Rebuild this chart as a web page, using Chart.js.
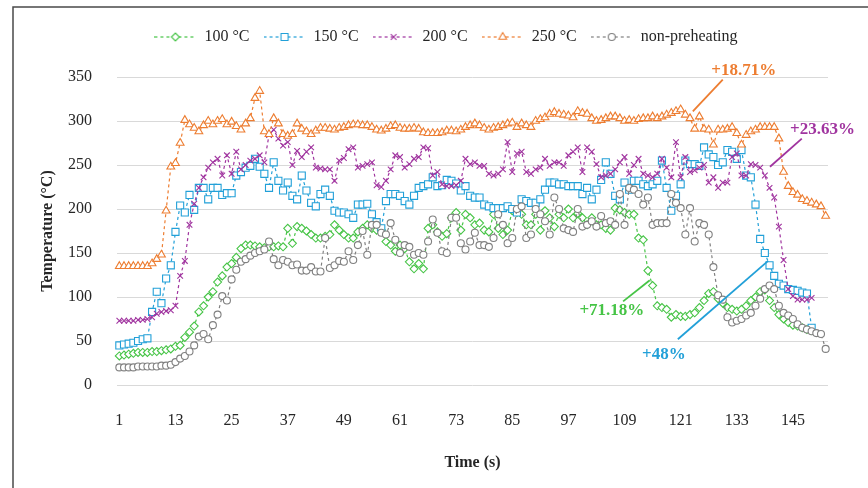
<!DOCTYPE html>
<html>
<head>
<meta charset="utf-8">
<script src="https://cdn.jsdelivr.net/npm/chart.js@4.4.1/dist/chart.umd.min.js"></script>
<style>
  html, body { margin: 0; padding: 0; background: #fff; }
</style>
</head>
<body>
<canvas id="temps" width="868" height="488"></canvas>
<script>
// time axis: one sample per second
const times = [];
for (let t = 1; t <= 152; t++) times.push(t);
const tickLabels = [1, 13, 25, 37, 49, 61, 73, 85, 97, 109, 121, 133, 145];

const preheat100 = [
  33, 34, 35, 36, 37, 37, 37, 38, 38, 39,
  40, 41, 44, 45, 54, 60, 67, 83, 90, 100,
  106, 117, 124, 134, 138, 145, 155, 159, 159, 158,
  157, 156, 157, 157, 158, 157, 178, 161, 180, 178,
  175, 171, 167, 167, 169, 171, 182, 176, 171, 167,
  167, 174, 178, 182, 178, 176, 176, 163, 159, 152,
  159, 155, 140, 132, 138, 132, 178, 182, 174, 169,
  172, 190, 196, 176, 194, 190, 182, 184, 176, 174,
  194, 178, 171, 176, 198, 196, 194, 182, 182, 194,
  176, 198, 190, 180, 194, 190, 200, 190, 195, 190,
  182, 190, 182, 182, 178, 176, 201, 199, 196, 194,
  194, 167, 165, 130, 113, 90, 88, 86, 77, 80,
  78, 78, 80, 82, 88, 96, 104, 106, 98, 93,
  88, 86, 84, 86, 90, 96, 100, 106, 108, 96,
  88, 80, 75, 71, 68, 67, 65, 63, 62, null,
  null, null
];

const preheat150 = [
  45, 46, 47, 48, 50, 52, 53, 83, 106, 93,
  121, 136, 174, 204, 196, 216, 199, 224, 224, 211,
  224, 224, 216, 218, 218, 238, 242, 247, 249, 257,
  248, 240, 224, 253, 232, 221, 230, 215, 211, 238,
  221, 207, 203, 217, 222, 215, 198, 196, 196, 194,
  190, 205, 205, 206, 194, 185, 178, 209, 217, 217,
  215, 209, 205, 215, 224, 226, 228, 236, 226, 227,
  233, 232, 229, 221, 226, 215, 213, 213, 205, 203,
  201, 201, 201, 203, 200, 196, 211, 209, 207, 207,
  211, 222, 230, 230, 228, 228, 226, 226, 226, 217,
  224, 211, 222, 233, 253, 240, 215, 211, 230, 222,
  232, 232, 228, 226, 228, 232, 255, 224, 198, 215,
  228, 255, 251, 251, 249, 270, 262, 259, 250, 253,
  267, 265, 257, 267, 238, 236, 205, 166, 150, 136,
  124, 115, 113, 109, 108, 107, 105, 104, 65, null,
  null, null
];

const preheat200 = [
  73, 73, 73, 73, 74, 74, 75, 77, 81, 83,
  84, 85, 90, 124, 141, 182, 206, 224, 236, 247,
  253, 257, 238, 261, 240, 265, 245, 250, 255, 257,
  261, 253, 284, 290, 280, 272, 276, 250, 266, 259,
  265, 270, 247, 246, 245, 245, 232, 255, 258, 268,
  270, 247, 249, 251, 253, 227, 225, 232, 245, 261,
  259, 247, 251, 257, 259, 270, 269, 238, 242, 228,
  226, 226, 227, 232, 257, 251, 253, 249, 249, 240,
  238, 240, 245, 276, 242, 263, 265, 242, 240, 245,
  247, 257, 249, 253, 253, 249, 261, 265, 270, 242,
  270, 265, 251, 236, 238, 240, 245, 253, 259, 240,
  250, 257, 240, 238, 236, 240, 257, 247, 236, 276,
  236, 259, 242, 244, 247, 250, 230, 236, 224, 230,
  230, 259, 263, 238, 238, 251, 250, 247, 238, 224,
  213, 180, 142, 109, 101, 97, 97, 97, 99, null,
  null, null
];

const preheat250 = [
  135, 135, 135, 135, 135, 135, 135, 138, 143, 148,
  198, 248, 252, 275, 301, 296, 292, 288, 295, 300,
  296, 300, 302, 296, 299, 294, 290, 297, 303, 326,
  334, 288, 285, 303, 297, 285, 283, 285, 297, 291,
  288, 285, 289, 292, 292, 291, 290, 292, 293, 295,
  296, 296, 295, 295, 293, 290, 289, 291, 294, 295,
  292, 291, 291, 292, 291, 287, 286, 286, 286, 287,
  289, 289, 288, 290, 293, 295, 297, 295, 292, 290,
  292, 293, 295, 297, 298, 293, 297, 295, 293, 300,
  302, 304, 308, 310, 308, 307, 306, 304, 311, 309,
  308, 303, 300, 301, 303, 305, 305, 303, 300, 301,
  300, 302, 303, 303, 305, 303, 305, 307, 309, 311,
  313, 307, 303, 291, 305, 291, 290, 273, 290, 290,
  291, 293, 286, 273, 284, 288, 290, 293, 293, 293,
  293, 280, 242, 226, 219, 216, 211, 209, 207, 205,
  203, 192
];

const noPreheat = [
  20, 20, 20, 20, 21, 21, 21, 21, 21, 22,
  22, 23, 26, 30, 33, 38, 45, 55, 58, 52,
  68, 80, 101, 96, 120, 131, 140, 143, 147, 150,
  152, 154, 163, 143, 136, 142, 140, 136, 137, 130,
  130, 134, 129, 129, 167, 133, 136, 141, 140, 152,
  142, 159, 175, 148, 182, 182, 173, 171, 184, 165,
  150, 159, 157, 148, 150, 148, 163, 188, 173, 152,
  150, 190, 190, 161, 154, 163, 173, 159, 159, 157,
  167, 194, 182, 161, 167, 200, 203, 167, 171, 200,
  194, 186, 171, 213, 200, 178, 176, 174, 200, 180,
  182, 186, 180, 192, 184, 186, 182, 217, 182, 224,
  222, 217, 205, 213, 182, 184, 184, 184, 217, 207,
  201, 171, 201, 163, 184, 182, 171, 134, 102, 97,
  77, 71, 73, 75, 79, 82, 90, 98, 109, 113,
  109, 90, 82, 79, 75, 69, 65, 63, 61, 59,
  58, 41
];

// percentage notes: text position and leader line, in (time, °C)
const notes = [
  { text: '+18.71%', color: '#ED7D31', at: [134.5, 357], from: [130.0, 347], to: [123.6, 311], align: 'center' },
  { text: '+23.63%', color: '#A0349F', at: [144.4, 290], from: [146.9, 280], to: [140.1, 248], align: 'left' },
  { text: '+71.18%', color: '#46C446', at: [106.3, 85], from: [108.7, 95], to: [114.4, 119], align: 'center' },
  { text: '+48%', color: '#22A0D8', at: [117.4, 35], from: [120.4, 52], to: [139.7, 141], align: 'center' }
];

const serif = "'Liberation Serif', 'Times New Roman', serif";
Chart.defaults.font.family = serif;
Chart.defaults.font.size = 16;
Chart.defaults.color = '#262626';

function series(label, data, color, pointStyle, radius, order) {
  return {
    label, data, order,
    borderColor: color,
    backgroundColor: '#fff',
    borderWidth: 1.2,
    borderDash: [3, 3],
    pointStyle,
    pointRadius: radius,
    pointBorderColor: color,
    pointBackgroundColor: '#fff',
    pointBorderWidth: 1.1,
    tension: 0
  };
}

const datasets = [
  series('100 °C', preheat100, '#46C446', 'rectRot', 4, 5),
  series('150 °C', preheat150, '#22A0D8', 'rect', 5, 4),
  series('200 °C', preheat200, '#A0349F', 'crossRot', 4, 3),
  series('250 °C', preheat250, '#ED7D31', 'triangle', 4.5, 2),
  series('non-preheating', noPreheat, '#808080', 'circle', 3.5, 1)
];

// legend symbol: dashed line with the marker in the middle
function legendIcon(ds) {
  const c = document.createElement('canvas');
  c.width = 42;
  c.height = 14;
  const g = c.getContext('2d');
  g.strokeStyle = ds.borderColor;
  g.lineWidth = 1.2;
  g.setLineDash([3, 3]);
  g.beginPath();
  g.moveTo(0, 7);
  g.lineTo(42, 7);
  g.stroke();
  g.setLineDash([]);
  g.fillStyle = '#fff';
  g.lineWidth = 1.1;
  Chart.helpers.drawPoint(g, { pointStyle: ds.pointStyle, radius: ds.pointRadius, borderWidth: 1.1, rotation: 0 }, 21, 7);
  return c;
}
const icons = datasets.map(legendIcon);

const frame = {
  id: 'frame',
  beforeDraw(chart) {
    const c = chart.ctx;
    c.save();
    c.fillStyle = '#fff';
    c.fillRect(0, 0, chart.width, chart.height);
    c.strokeStyle = '#4a4a4a';
    c.lineWidth = 1.5;
    c.beginPath();
    c.moveTo(13, chart.height);
    c.lineTo(13, 7);
    c.lineTo(chart.width, 7);
    c.stroke();
    c.restore();
  }
};

// more room under the legend, and nudge it right like the original
const legendPlace = {
  id: 'legendPlace',
  beforeLayout(chart) {
    const lg = chart.legend;
    if (lg && !lg._patched) {
      const fit = lg.fit;
      lg.fit = function () {
        fit.call(this);
        this.height += 22;
      };
      lg._patched = true;
    }
  },
  afterLayout(chart) {
    chart.legend.left += 25;
    chart.legend.right += 25;
  }
};

const noteLabels = {
  id: 'noteLabels',
  afterDatasetsDraw(chart) {
    const xs = chart.scales.x, ys = chart.scales.y, c = chart.ctx;
    c.save();
    notes.forEach(n => {
      c.strokeStyle = n.color;
      c.lineWidth = 1.8;
      c.beginPath();
      c.moveTo(xs.getPixelForValue(n.from[0] - 1), ys.getPixelForValue(n.from[1]));
      c.lineTo(xs.getPixelForValue(n.to[0] - 1), ys.getPixelForValue(n.to[1]));
      c.stroke();
      c.fillStyle = n.color;
      c.font = 'bold 17px ' + serif;
      c.textAlign = n.align;
      c.textBaseline = 'middle';
      c.fillText(n.text, xs.getPixelForValue(n.at[0] - 1), ys.getPixelForValue(n.at[1]));
    });
    c.restore();
  }
};

new Chart(document.getElementById('temps'), {
  type: 'line',
  data: { labels: times, datasets },
  options: {
    responsive: false,
    animation: false,
    layout: { padding: { left: 14, right: 40, top: 15, bottom: 0 } },
    plugins: {
      tooltip: { enabled: false },
      legend: {
        position: 'top',
        labels: {
          usePointStyle: true,
          pointStyleWidth: 42,
          padding: 14,
          font: { size: 16 },
          generateLabels(chart) {
            return Chart.defaults.plugins.legend.labels.generateLabels(chart)
              .sort((a, b) => a.datasetIndex - b.datasetIndex)
              .map(item => Object.assign(item, { pointStyle: icons[item.datasetIndex] }));
          }
        }
      }
    },
    scales: {
      x: {
        offset: true,
        grid: { display: false, drawTicks: false },
        border: { display: false },
        ticks: {
          autoSkip: false,
          maxRotation: 0,
          padding: 26,
          callback(value, index) {
            return tickLabels.includes(times[index]) ? String(times[index]) : '';
          }
        },
        title: {
          display: true,
          text: 'Time (s)',
          font: { size: 16, weight: 'bold' },
          padding: { top: 0, bottom: 16 }
        },
        afterFit(scale) { scale.height = 103; }
      },
      y: {
        min: 0,
        max: 350,
        grid: { color: '#d9d9d9', lineWidth: 1, drawTicks: false },
        border: { display: false },
        ticks: { stepSize: 50, padding: 25 },
        title: {
          display: true,
          text: 'Temperature (°C)',
          font: { size: 16, weight: 'bold' },
          padding: { top: 24, bottom: 0 }
        },
        afterFit(scale) { scale.width = 103; }
      }
    }
  },
  plugins: [frame, legendPlace, noteLabels]
});
</script>
</body>
</html>
